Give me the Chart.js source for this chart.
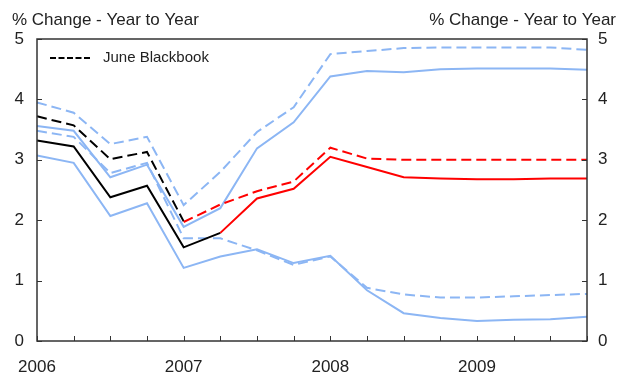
<!DOCTYPE html>
<html>
<head>
<meta charset="utf-8">
<script src="https://cdn.jsdelivr.net/npm/chart.js@4.4.1/dist/chart.umd.min.js"></script>
<style>
  html, body { margin: 0; padding: 0; background: #fff; }
  #wrap { width: 626px; height: 377px; }
</style>
</head>
<body>
<div id="wrap"><canvas id="chart" width="626" height="377"></canvas></div>
<script>
const quarters = [
    '2006 Q1', '2006 Q2', '2006 Q3', '2006 Q4',
    '2007 Q1', '2007 Q2', '2007 Q3', '2007 Q4',
    '2008 Q1', '2008 Q2', '2008 Q3', '2008 Q4',
    '2009 Q1', '2009 Q2', '2009 Q3', '2009 Q4'
];
const yTicks = [0, 1, 2, 3, 4, 5];

// black solid = actual, red solid = forecast
const actual = [3.32, 3.22, 2.38, 2.57, 1.55, 1.79, null, null, null, null, null, null, null, null, null, null];
const forecast = [null, null, null, null, null, 1.79, 2.36, 2.52, 3.05, 2.88, 2.71, 2.69, 2.68, 2.68, 2.69, 2.69];

// June Blackbook (dashed)
const blackbookActual = [3.72, 3.57, 3.01, 3.13, 1.98, null, null, null, null, null, null, null, null, null, null, null];
const blackbookForecast = [null, null, null, null, 1.97, 2.26, 2.48, 2.64, 3.2, 3.02, 3.0, 3.0, 3.0, 3.0, 3.0, 3.0];

// blue bands
const upperSolid = [3.56, 3.48, 2.71, 2.92, 1.89, 2.2, 3.19, 3.62, 4.38, 4.47, 4.45, 4.5, 4.51, 4.51, 4.51, 4.49];
const upperDashed = [3.95, 3.78, 3.26, 3.38, 2.25, 2.8, 3.46, 3.87, 4.75, 4.8, 4.85, 4.86, 4.86, 4.86, 4.86, 4.82];
const lowerDashed = [3.48, 3.38, 2.78, 2.95, 1.7, 1.7, 1.5, 1.26, 1.4, 0.88, 0.77, 0.72, 0.72, 0.74, 0.76, 0.78];
const lowerSolid = [3.07, 2.95, 2.07, 2.28, 1.21, 1.4, 1.52, 1.29, 1.41, 0.84, 0.46, 0.38, 0.33, 0.35, 0.36, 0.4];

const BLUE = '#8cb6f4';
const RED = '#ff0000';
const BLACK = '#000000';
const DASH = [10, 5];
const FONT = "'Liberation Sans', Arial, sans-serif";

function line(label, data, color, dashed, order) {
    return {
        label: label,
        data: data,
        borderColor: color,
        backgroundColor: color,
        borderWidth: 2,
        borderDash: dashed ? DASH : [],
        pointRadius: 0,
        tension: 0,
        fill: false,
        spanGaps: false,
        order: order
    };
}

// box, inward ticks, titles and legend
const decorations = {
    id: 'decorations',
    afterDatasetsDraw(chart) {
        const ctx = chart.ctx;
        const area = chart.chartArea;
        const x = chart.scales.x;
        const yL = chart.scales.y;
        const yR = chart.scales.y2;
        ctx.save();
        ctx.strokeStyle = '#333';
        ctx.lineWidth = 1;
        ctx.beginPath();
        x.ticks.forEach((t, i) => {
            const px = Math.round(x.getPixelForTick(i)) + 0.5;
            ctx.moveTo(px, area.bottom);
            ctx.lineTo(px, area.bottom - 5);
        });
        yL.ticks.forEach((t, i) => {
            const py = Math.round(yL.getPixelForTick(i)) + 0.5;
            ctx.moveTo(area.left, py);
            ctx.lineTo(area.left + 5, py);
        });
        yR.ticks.forEach((t, i) => {
            const py = Math.round(yR.getPixelForTick(i)) + 0.5;
            ctx.moveTo(area.right, py);
            ctx.lineTo(area.right - 5, py);
        });
        ctx.stroke();

        ctx.lineWidth = 1.5;
        ctx.strokeRect(area.left, area.top, area.right - area.left, area.bottom - area.top);

        // axis titles
        ctx.fillStyle = '#222';
        ctx.font = '17px ' + FONT;
        ctx.textBaseline = 'middle';
        ctx.textAlign = 'left';
        ctx.fillText('% Change - Year to Year', 12, 20);
        ctx.textAlign = 'right';
        ctx.fillText('% Change - Year to Year', 616, 20);

        // legend
        ctx.strokeStyle = BLACK;
        ctx.lineWidth = 2;
        ctx.setLineDash([6, 2.5]);
        ctx.beginPath();
        ctx.moveTo(50, 58);
        ctx.lineTo(92, 58);
        ctx.stroke();
        ctx.setLineDash([]);
        ctx.textAlign = 'left';
        ctx.font = '15px ' + FONT;
        ctx.fillText('June Blackbook', 103, 58);
        ctx.restore();
    }
};

const yAxis = (position, width, padding) => ({
    type: 'linear',
    position: position,
    min: 0,
    max: 5,
    afterBuildTicks: scale => { scale.ticks = yTicks.map(v => ({ value: v })); },
    afterFit: scale => { scale.width = width; },
    grid: { display: false, drawTicks: false },
    border: { display: false },
    ticks: {
        font: { family: FONT, size: 17 },
        color: '#222',
        padding: padding
    }
});

new Chart(document.getElementById('chart').getContext('2d'), {
    type: 'line',
    data: {
        labels: quarters,
        datasets: [
            line('Upper band', upperSolid, BLUE, false, 5),
            line('Upper band (June)', upperDashed, BLUE, true, 5),
            line('Lower band (June)', lowerDashed, BLUE, true, 5),
            line('Lower band', lowerSolid, BLUE, false, 5),
            line('June Blackbook', blackbookActual, BLACK, true, 2),
            line('Actual', actual, BLACK, false, 2),
            line('June Blackbook forecast', blackbookForecast, RED, true, 1),
            line('Forecast', forecast, RED, false, 1)
        ]
    },
    options: {
        responsive: false,
        animation: false,
        layout: { padding: { top: 39, left: 0, right: 0, bottom: 0 } },
        plugins: {
            legend: { display: false },
            tooltip: { enabled: false }
        },
        scales: {
            x: {
                type: 'category',
                offset: false,
                afterFit: scale => { scale.height = 36; },
                grid: { display: false, drawTicks: false },
                border: { display: false },
                ticks: {
                    autoSkip: false,
                    maxRotation: 0,
                    padding: 16,
                    font: { family: FONT, size: 17 },
                    color: '#222',
                    callback: function (val, i) {
                        const lbl = quarters[i];
                        return lbl.endsWith('Q1') ? lbl.slice(0, 4) : '';
                    }
                }
            },
            y: yAxis('left', 37, 13),
            y2: yAxis('right', 39, 11)
        }
    },
    plugins: [decorations]
});
</script>
</body>
</html>
